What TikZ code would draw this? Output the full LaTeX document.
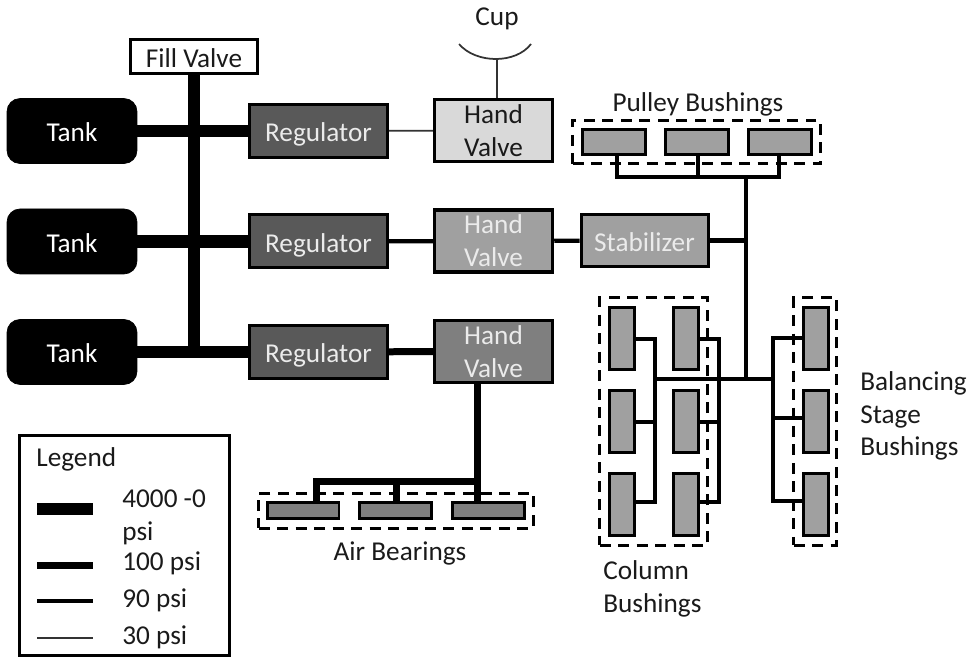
\documentclass[tikz,border=0pt]{standalone}
\usepackage{fontspec}
\setmainfont{Carlito}
\usepackage{tikz}
\definecolor{regcolor}{HTML}{595959}
\definecolor{valvelight}{HTML}{D9D9D9}
\definecolor{valvemid}{HTML}{A0A0A0}
\definecolor{valvedark}{HTML}{7F7F7F}
\definecolor{labelcolor}{HTML}{1A1A1A}
\tikzstyle{oneline} = [text height=12pt, text depth=0pt]
\tikzstyle{tank} = [
    rectangle,
    oneline,
    rounded corners=0.26cm,
    minimum width=2.6cm,
    minimum height=1.3cm,
    draw=black,
    fill=black,
    text=white
]
\tikzstyle{fillvalve} = [
    rectangle,
    oneline,
    minimum width=2.54cm,
    minimum height=0.7cm,
    line width=0.06cm,
    draw=black,
    fill=white,
    text=labelcolor
]
\tikzstyle{regulator} = [
    rectangle,
    oneline,
    minimum width=2.76cm,
    minimum height=1.06cm,
    line width=0.06cm,
    draw=black,
    fill=regcolor,
    text=white!92!black
]
\tikzstyle{handvalve} = [
    rectangle,
    minimum width=2.36cm,
    minimum height=1.24cm,
    inner sep=0pt,
    align=center,
    line width=0.07cm,
    draw=black
]
\tikzstyle{stabilizer} = [
    rectangle,
    oneline,
    minimum width=2.54cm,
    minimum height=1.04cm,
    line width=0.06cm,
    draw=black,
    fill=valvemid,
    text=white!92!black
]
\tikzstyle{widebush} = [
    rectangle,
    minimum width=1.26cm,
    minimum height=0.5cm,
    line width=0.06cm,
    draw=black,
    fill=valvemid
]
\tikzstyle{airbush} = [
    rectangle,
    minimum width=1.44cm,
    minimum height=0.33cm,
    line width=0.06cm,
    draw=black,
    fill=valvedark
]
\tikzstyle{tallbush} = [
    rectangle,
    minimum width=0.5cm,
    minimum height=1.24cm,
    line width=0.06cm,
    draw=black,
    fill=valvemid
]
\tikzstyle{group} = [
    rectangle,
    line width=0.06cm,
    draw=black,
    dash pattern=on 0.22cm off 0.15cm
]
\tikzstyle{caption} = [oneline, text=labelcolor, inner sep=0pt]
\tikzstyle{captionleft} = [text=labelcolor, inner sep=0pt, anchor=west, align=left]
\tikzstyle{legendbox} = [
    rectangle,
    minimum width=4.22cm,
    minimum height=4.42cm,
    line width=0.06cm,
    draw=black
]
\tikzstyle{linefull} = [line width=0.25cm]
\tikzstyle{linehigh} = [line width=0.14cm]
\tikzstyle{linemid} = [line width=0.085cm]
\tikzstyle{linelow} = [line width=0.035cm, black!80]

\begin{document}
\begin{tikzpicture}[x=0.02cm, y=-0.02cm, node distance=2.21cm,
    font=\fontsize{15.5}{18.7}\selectfont]

\useasboundingbox (0,0) rectangle (972,659);

% dashed groups
\node (pulleygroup) [group, minimum width=4.96cm, minimum height=0.88cm] at (696.5,142) {};
\node (airgroup) [group, minimum width=5.5cm, minimum height=0.7cm] at (396,510.5) {};
\node (columngroup) [group, minimum width=2.16cm, minimum height=4.96cm] at (653.5,421.5) {};
\node (balancegroup) [group, minimum width=0.86cm, minimum height=4.96cm] at (815,421.5) {};

% left column
\node (fill) [fillvalve] at (194,56.5) {Fill Valve};

\node (tank1) [tank] at (72,131) {Tank};
\node (tank2) [tank, below of=tank1] {Tank};
\node (tank3) [tank, below of=tank2] {Tank};

\node (reg1) [regulator] at (318.5,131) {Regulator};
\node (reg2) [regulator, below of=reg1] {Regulator};
\node (reg3) [regulator, below of=reg2] {Regulator};

\node (valve1) [handvalve, fill=valvelight, text=labelcolor] at (493.5,130.5)
{Hand\\Valve};
\node (valve2) [handvalve, fill=valvemid, text=white!92!black, below of=valve1]
{Hand\\Valve};
\node (valve3) [handvalve, fill=valvedark, text=white!92!black, below of=valve2]
{Hand\\Valve};

\node (stab) [stabilizer] at (644.5,240.5) {Stabilizer};

% cup
\node (cuplabel) [caption] at (497,15) {Cup};
\coordinate (cupl) at (459,44);
\coordinate (cupr) at (531,44);
\coordinate (cupbot) at (497,59);

% pulley bushings
\node (pulleylabel) [caption] at (698,100.5) {Pulley Bushings};
\node (pb1) [widebush] at (614,142) {};
\node (pb2) [widebush] at (697,142) {};
\node (pb3) [widebush] at (780,142) {};
\coordinate (pbl) at (617,177);
\coordinate (pbm) at (698,177);
\coordinate (pbr) at (779,177);
\coordinate (pbmain) at (746,177);

% air bearings
\node (ab1) [airbush] at (303,510.5) {};
\node (ab2) [airbush] at (395.5,510.5) {};
\node (ab3) [airbush] at (488.5,510.5) {};
\node (airlabel) [caption] at (400,550) {Air Bearings};
\coordinate (abl) at (316,481);
\coordinate (abm) at (396,481);
\coordinate (abr) at (477,481);

% column bushings
\node (cb1) [tallbush] at (621.5,338.5) {};
\node (cb2) [tallbush, below of=cb1, node distance=1.66cm] {};
\node (cb3) [tallbush, below of=cb2, node distance=1.66cm] {};
\node (cb4) [tallbush] at (686,338.5) {};
\node (cb5) [tallbush, below of=cb4, node distance=1.66cm] {};
\node (cb6) [tallbush, below of=cb5, node distance=1.66cm] {};
\node (collabel) [captionleft] at (603,588.5) {Column\\Bushings};
\coordinate (busatop) at (655,339);
\coordinate (busamid) at (655,422);
\coordinate (busabot) at (655,502);
\coordinate (busbtop) at (719,339);
\coordinate (busbmid) at (719,422);
\coordinate (busbbot) at (719,502);

% balancing stage bushings
\node (bb1) [tallbush] at (815.5,338.5) {};
\node (bb2) [tallbush, below of=bb1, node distance=1.66cm] {};
\node (bb3) [tallbush, below of=bb2, node distance=1.66cm] {};
\node (ballabel) [captionleft] at (860,416) {Balancing\\Stage\\Bushings};
\coordinate (busctop) at (773,338);
\coordinate (buscmid) at (773,418);
\coordinate (buscbot) at (773,501);

% junctions
\coordinate (mainhub) at (746,379);
\coordinate (fillend) at (194,352);

% 4000 psi
\draw [linefull] (fill.south) -- (fillend);
\draw [linefull] (tank1) -- (reg1);
\draw [linefull] (tank2) -- (reg2);
\draw [linefull] (tank3) -- (reg3);

% 100 psi
\draw [linehigh] (reg3) -- (valve3);
\draw [linehigh] (abr |- valve3.south) -- (abr) -- (abl) -- (abl |- ab1.north);
\draw [linehigh] (abm) -- (abm |- ab2.north);
\draw [linehigh] (abr) -- (abr |- ab3.north);

% 90 psi
\draw [linemid] (reg2) -- (valve2);
\draw [linemid] (valve2) -- (stab);
\draw [linemid] (stab) -- (stab -| pbmain);
\draw [linemid] (pbmain) -- (mainhub);
\draw [linemid] (pbl |- pb1.south) -- (pbl) -- (pbr) -- (pbr |- pb3.south);
\draw [linemid] (pbm) -- (pbm |- pb2.south);
\draw [linemid] (mainhub) -- (mainhub -| busatop);
\draw [linemid] (mainhub) -- (mainhub -| busctop);
\draw [linemid] (busatop -| cb1.east) -- (busatop) -- (busabot) -- (busabot -| cb3.east);
\draw [linemid] (busamid -| cb2.east) -- (busamid);
\draw [linemid] (busbtop -| cb4.east) -- (busbtop) -- (busbbot) -- (busbbot -| cb6.east);
\draw [linemid] (busbmid -| cb5.east) -- (busbmid);
\draw [linemid] (busctop -| bb1.west) -- (busctop) -- (buscbot) -- (buscbot -| bb3.west);
\draw [linemid] (buscmid -| bb2.west) -- (buscmid);

% 30 psi
\draw [linelow] (reg1) -- (valve1);
\draw [linelow] (cupbot |- valve1.north) -- (cupbot);
\draw [linelow] (cupl) .. controls (476,64) and (516,64) .. (cupr);

% legend
\node (legend) [legendbox] at (124.5,545.5) {};
\node (legendtitle) [caption, anchor=west] at (36,456) {Legend};
\node (psifull) [captionleft] at (122,517) {4000 -0\\psi};
\node (psihigh) [caption, anchor=west] at (122,559.5) {100 psi};
\node (psimid) [caption, anchor=west] at (122,596.5) {90 psi};
\node (psilow) [caption, anchor=west] at (122,634) {30 psi};
\coordinate (keya) at (37,509);
\coordinate (keyb) at (93,509);
\coordinate (keyc) at (37,565);
\coordinate (keyd) at (93,565);
\coordinate (keye) at (37,601);
\coordinate (keyf) at (93,601);
\coordinate (keyg) at (37,638);
\coordinate (keyh) at (93,638);
\draw [linefull] (keya) -- (keyb);
\draw [linehigh] (keyc) -- (keyd);
\draw [linemid] (keye) -- (keyf);
\draw [linelow] (keyg) -- (keyh);

\end{tikzpicture}
\end{document}
